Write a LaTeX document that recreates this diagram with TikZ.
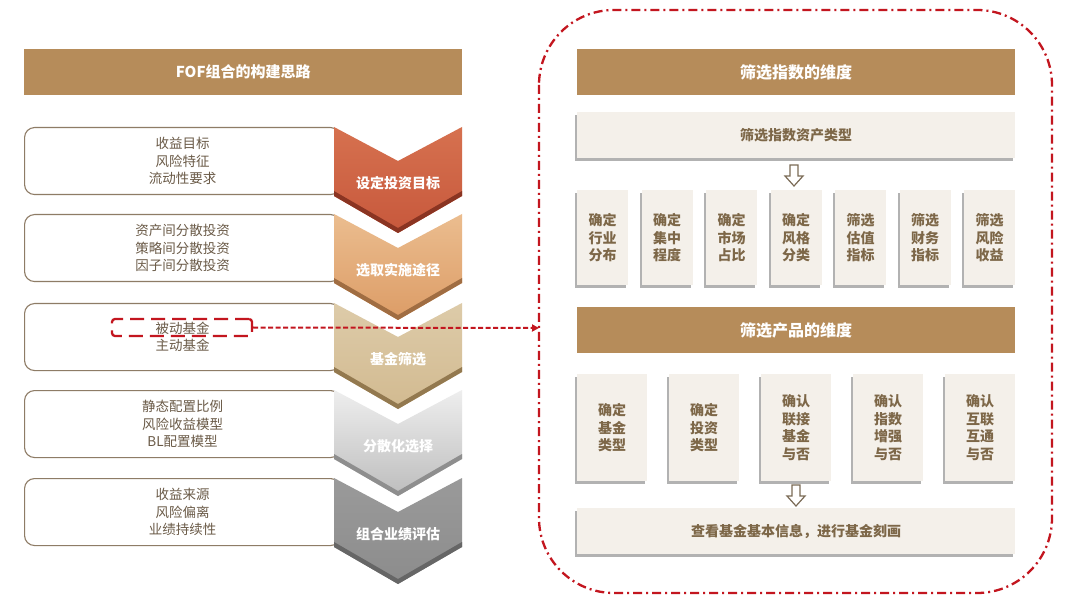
\documentclass[tikz,border=0pt]{standalone}
\usepackage{fontspec}
\setmainfont{Noto Sans CJK SC}
\usetikzlibrary{arrows.meta,shadows}
\definecolor{hdr}{HTML}{B68C5A}
\definecolor{boxline}{HTML}{8E7C66}
\definecolor{lefttxt}{HTML}{6A5A47}
\definecolor{paneltxt}{HTML}{7D6748}
\definecolor{panel}{HTML}{F4F0EA}
\definecolor{redline}{HTML}{C3161F}
\definecolor{arrowline}{HTML}{7A6A55}
\definecolor{chA1}{HTML}{D6714F}\definecolor{chA2}{HTML}{C7583C}\definecolor{chA3}{HTML}{8A3422}
\definecolor{chB1}{HTML}{EBBD8F}\definecolor{chB2}{HTML}{DC9C66}\definecolor{chB3}{HTML}{A06D42}
\definecolor{chC1}{HTML}{DDCBA9}\definecolor{chC2}{HTML}{D2BA90}\definecolor{chC3}{HTML}{93794F}
\definecolor{chD1}{HTML}{EEEEEE}\definecolor{chD2}{HTML}{BDBDBD}\definecolor{chD3}{HTML}{8E8E8E}
\definecolor{chE1}{HTML}{9A9A9A}\definecolor{chE2}{HTML}{8C8C8C}\definecolor{chE3}{HTML}{666666}
\newcommand\mychev[4]{%
  \shade[top color=#2,bottom color=#3] (334,#1) -- (398,#1+34) -- (462,#1) -- (462,#1+69) -- (398,#1+106) -- (334,#1+69) -- cycle;
  \fill[#4] (334,#1+64) -- (398,#1+101) -- (462,#1+64) -- (462,#1+69) -- (398,#1+106) -- (334,#1+69) -- cycle;
}
\newcommand\hollowarrow[3]{%
  \draw[arrowline, line width=1.2pt, fill=white, line join=miter]
    (#1-4,#2) -- (#1+4,#2) -- (#1+4,#3-10) -- (#1+9,#3-10) -- (#1,#3) -- (#1-9,#3-10) -- (#1-4,#3-10) -- cycle;
}
\begin{document}
\begin{tikzpicture}[x=1pt,y=-1pt,
  hdrbar/.style={fill=hdr, text=white, font=\fontsize{15}{18}\selectfont\bfseries, minimum height=46pt, inner sep=0pt, anchor=north west},
  leftbox/.style={draw=boxline, line width=1.1pt, rounded corners=10pt, fill=white, minimum width=316pt, minimum height=67pt, anchor=north west, inner sep=0pt, align=center, font=\fontsize{13.5}{17.5}\selectfont, text=lefttxt},
  chevlbl/.style={text=white, font=\fontsize{14}{17}\selectfont\bfseries, inner sep=0pt},
  panelbox/.style={fill=panel, drop shadow={shadow xshift=-2pt, shadow yshift=-3pt, fill=black!55, opacity=0.55}, text=paneltxt, font=\fontsize{14}{17.3}\selectfont\bfseries, align=center, inner sep=0pt, anchor=north west},
  smallbox/.style={panelbox, minimum width=51pt, minimum height=95pt},
  midbox/.style={panelbox, minimum width=70pt, minimum height=107pt, font=\fontsize{14}{17.5}\selectfont\bfseries},
  widebox/.style={panelbox, minimum width=438pt, minimum height=46pt},
  redrect/.style={draw=redline, line width=2.3pt, dash pattern=on 14pt off 7pt, rounded corners=3pt, minimum width=140pt, minimum height=17pt, inner sep=0pt},
  redarrow/.style={draw=redline, line width=2pt, dash pattern=on 5pt off 2.5pt, -{Triangle[length=7pt,width=7pt]}},
  boundary/.style={draw=redline, line width=2.3pt, dash pattern=on 9pt off 4pt on 2pt off 4pt, rounded corners=75pt}
]
\useasboundingbox (0,0) rectangle (1080,604);
\fill[white] (0,0) rectangle (1080,604);

% ---------- left column ----------
\node[hdrbar, minimum width=438pt] (lhdr) at (24,49) {FOF组合的构建思路};

\node[leftbox] (b1) at (24,127) {收益目标\\风险特征\\流动性要求};
\node[leftbox] (b2) at (24,214) {资产间分散投资\\策略间分散投资\\因子间分散投资};
\node[leftbox] (b3) at (24,303) {被动基金\\主动基金};
\node[leftbox] (b4) at (24,390) {静态配置比例\\风险收益模型\\BL配置模型};
\node[leftbox] (b5) at (24,478) {收益来源\\风险偏离\\业绩持续性};

\mychev{127}{chA1}{chA2}{chA3}
\mychev{214}{chB1}{chB2}{chB3}
\mychev{303}{chC1}{chC2}{chC3}
\mychev{390}{chD1}{chD2}{chD3}
\mychev{478}{chE1}{chE2}{chE3}

\node[chevlbl] (c1) at (398,183) {设定投资目标};
\node[chevlbl] (c2) at (398,270) {选取实施途径};
\node[chevlbl] (c3) at (398,359) {基金筛选};
\node[chevlbl] (c4) at (398,446) {分散化选择};
\node[chevlbl] (c5) at (398,534) {组合业绩评估};

% ---------- right panel ----------
\draw[boundary] (539,10) rectangle (1052,593);

\node[hdrbar, minimum width=438pt, font=\fontsize{16}{19}\selectfont\bfseries] (rh1) at (577,49) {筛选指数的维度};
\node[widebox] (ra) at (577,112) {筛选指数资产类型};
\hollowarrow{794}{165}{186}

\node[smallbox] (s1) at (577.0,190) {确定\\行业\\分布};
\node[smallbox] (s2) at (641.5,190) {确定\\集中\\程度};
\node[smallbox] (s3) at (706.0,190) {确定\\市场\\占比};
\node[smallbox] (s4) at (770.5,190) {确定\\风格\\分类};
\node[smallbox] (s5) at (835.0,190) {筛选\\估值\\指标};
\node[smallbox] (s6) at (899.5,190) {筛选\\财务\\指标};
\node[smallbox] (s7) at (964.0,190) {筛选\\风险\\收益};

\node[hdrbar, minimum width=438pt, font=\fontsize{16}{19}\selectfont\bfseries] (rh2) at (577,307) {筛选产品的维度};

\node[midbox] (m1) at (577,374) {确定\\基金\\类型};
\node[midbox] (m2) at (669,374) {确定\\投资\\类型};
\node[midbox] (m3) at (761,374) {确认\\联接\\基金\\与否};
\node[midbox] (m4) at (853,374) {确认\\指数\\增强\\与否};
\node[midbox] (m5) at (945,374) {确认\\互联\\互通\\与否};

\hollowarrow{796}{485}{506}
\node[widebox] (rb) at (577,508) {查看基金基本信息，进行基金刻画};

% ---------- highlight and link ----------
\node[redrect] (pb) at (182,327.5) {};
\coordinate (bnd) at (539,328);
\draw[redarrow] (pb.east) -- (bnd);
\end{tikzpicture}
\end{document}
